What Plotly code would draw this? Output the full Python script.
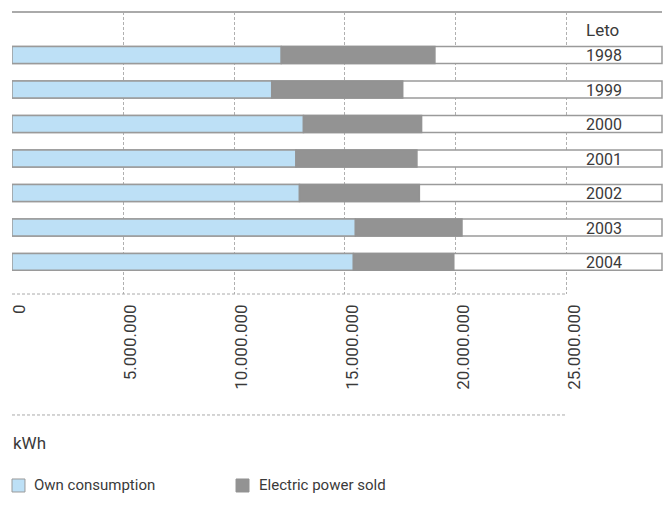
import plotly.graph_objects as go

# Annual electricity figures (kWh)
years = ["1998", "1999", "2000", "2001", "2002", "2003", "2004"]
own_consumption = [12130000, 11700000, 13130000, 12790000, 12950000, 15470000, 15380000]
power_sold = [6920000, 5900000, 5320000, 5450000, 5400000, 4800000, 4520000]

tick_values = [0, 5000000, 10000000, 15000000, 20000000, 25000000]
tick_labels = ["0", "5.000.000", "10.000.000", "15.000.000", "20.000.000", "25.000.000"]

AXIS_MAX = 25000000
TRACK_END = 29280000     # length of the framed row behind every bar
X_RANGE_END = 29370000

BLUE = "#bde0f6"
GREY = "#939393"
EDGE = "#9a9a9a"
TEXT = "#3a3a3a"
FONT = "Roboto"

fig = go.Figure()

# white framed track for each year
fig.add_trace(go.Bar(
    y=years, x=[TRACK_END] * len(years), orientation="h",
    marker=dict(color="white", line=dict(color=EDGE, width=1.5)),
    width=0.49, showlegend=False, hoverinfo="skip",
))
fig.add_trace(go.Bar(
    y=years, x=own_consumption, orientation="h", name="Own consumption",
    marker=dict(color=BLUE, line=dict(color=EDGE, width=1.5)),
    width=0.49,
))
fig.add_trace(go.Bar(
    y=years, x=power_sold, base=own_consumption, orientation="h",
    name="Electric power sold",
    marker=dict(color=GREY, line=dict(color=GREY, width=1.5)),
    width=0.49,
))

# year labels inside the tracks
for i, yr in enumerate(years):
    fig.add_annotation(x=0.878, xref="paper", y=i, yref="y", text=yr,
                       showarrow=False, xanchor="left", yanchor="middle", yshift=-1,
                       font=dict(family=FONT, size=16, color=TEXT))
fig.add_annotation(x=0.878, xref="paper", y=0.936, yref="paper", text="Leto",
                   showarrow=False, xanchor="left", yanchor="middle",
                   font=dict(family=FONT, size=17, color=TEXT))
fig.add_annotation(x=-0.002, xref="paper", y=-0.529, yref="paper", text="kWh",
                   showarrow=False, xanchor="left", yanchor="middle",
                   font=dict(family=FONT, size=17, color=TEXT))

# legend drawn as swatches with captions
legend_items = [
    ("Own consumption", BLUE, EDGE, 0.0, 0.0307),
    ("Electric power sold", GREY, GREY, 0.3436, 0.3758),
]
for label, fill, edge, sx, tx in legend_items:
    fig.add_shape(type="rect", xref="paper", yref="paper",
                  x0=sx, x1=sx + 0.0199, y0=-0.7021, y1=-0.656,
                  fillcolor=fill, line=dict(color=edge, width=1))
    fig.add_annotation(x=tx, xref="paper", y=-0.679, yref="paper", text=label,
                       showarrow=False, xanchor="left", yanchor="middle",
                       font=dict(family=FONT, size=15, color=TEXT))

# frame lines
fig.add_shape(type="line", xref="x", yref="paper", x0=0, x1=TRACK_END, y0=1, y1=1,
              line=dict(color="#aaaaaa", width=2))
fig.add_shape(type="line", xref="x", yref="paper", x0=0, x1=AXIS_MAX, y0=0, y1=0,
              line=dict(color="#aaaaaa", width=1, dash="3px,2px"))
fig.add_shape(type="line", xref="x", yref="paper", x0=0, x1=AXIS_MAX, y0=-0.429, y1=-0.429,
              line=dict(color="#aaaaaa", width=1, dash="3px,2px"))

fig.update_layout(
    width=668, height=507,
    margin=dict(l=12, r=4, t=12, b=213),
    paper_bgcolor="white", plot_bgcolor="white",
    barmode="overlay",
    showlegend=False,
    font=dict(family=FONT, color=TEXT),
    xaxis=dict(range=[0, X_RANGE_END], tickvals=tick_values, ticktext=tick_labels,
               tickangle=-90, showgrid=True, gridcolor="#b0b0b0", gridwidth=1,
               griddash="3px,2px", zeroline=True, zerolinecolor="white", zerolinewidth=2,
               showline=False, ticks="", ticklabelshift=7, ticklabelstandoff=6,
               automargin=False,
               tickfont=dict(family=FONT, size=17, color=TEXT)),
    yaxis=dict(type="category", range=[6.93, -1.246], showticklabels=False,
               showgrid=False, zeroline=False, showline=False, ticks="",
               automargin=False),
)

fig.write_html("out.html")
